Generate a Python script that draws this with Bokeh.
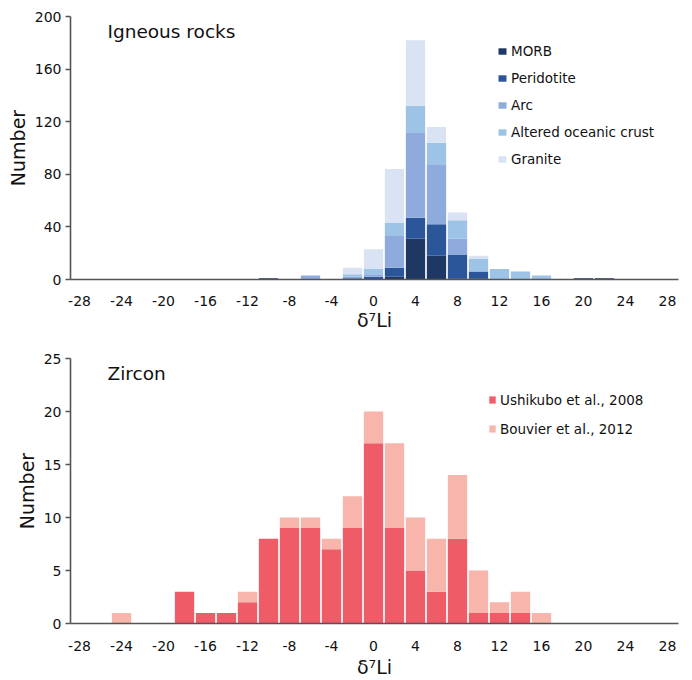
from bokeh.plotting import figure
from bokeh.models import Range1d, FixedTicker, Legend, LegendItem, Label, ColumnDataSource
from bokeh.layouts import column
from bokeh.embed import file_html
from bokeh.resources import INLINE

# ---------------- data ----------------
x_ticks = [-28, -24, -20, -16, -12, -8, -4, 0, 4, 8, 12, 16, 20, 24, 28]

# Igneous rocks (bin centres, bin width 2)
ign_bins = [-10, -6, -2, 0, 2, 4, 6, 8, 10, 12, 14, 16, 20, 22]
morb = [1, 0, 0, 0, 2, 31, 18, 1, 1, 0, 0, 0, 1, 1]
peridotite = [0, 0, 1, 2, 7, 16, 24, 18, 5, 0, 0, 0, 0, 0]
arc = [0, 3, 1, 2, 24, 65, 45, 12, 0, 0, 0, 0, 0, 0]
altered = [0, 0, 2, 4, 10, 20, 17, 14, 10, 8, 6, 3, 0, 0]
granite = [0, 0, 5, 15, 41, 50, 12, 6, 2, 0, 0, 0, 0, 0]
ign_names = ["MORB", "Peridotite", "Arc", "Altered oceanic crust", "Granite"]
ign_colors = ["#1f3763", "#2b579a", "#8faadc", "#9dc3e6", "#dae3f3"]
ign_ticks = [0, 40, 80, 120, 160, 200]

# Zircon
zr_bins = [-24, -18, -16, -14, -12, -10, -8, -6, -4, -2, 0, 2, 4, 6, 8, 10, 12, 14, 16]
ushikubo = [0, 3, 1, 1, 2, 8, 9, 9, 7, 9, 17, 9, 5, 3, 8, 1, 1, 1, 0]
bouvier = [1, 0, 0, 0, 1, 0, 1, 1, 1, 3, 3, 8, 5, 5, 6, 4, 1, 2, 1]
zr_names = ["Ushikubo et al., 2008", "Bouvier et al., 2012"]
zr_colors = ["#ef5b67", "#f8b5ab"]
zr_ticks = [0, 5, 10, 15, 20, 25]

FONT = "DejaVu Sans"
AXC = "#555555"
BAR_W = 1.84


def style(p, yticks):
    p.xgrid.visible = False
    p.ygrid.visible = False
    p.outline_line_color = None
    p.background_fill_color = "white"
    p.border_fill_color = "white"
    for ax in (p.xaxis, p.yaxis):
        ax.axis_line_color = AXC
        ax.axis_line_width = 1.6
        ax.major_tick_line_color = AXC
        ax.major_tick_line_width = 1.4
        ax.minor_tick_line_color = None
        ax.major_label_text_font = FONT
        ax.major_label_text_font_size = "14px"
        ax.major_label_text_color = "#111111"
        ax.axis_label_text_font = FONT
        ax.axis_label_text_font_style = "normal"
        ax.axis_label_text_color = "#111111"
    p.xaxis.ticker = FixedTicker(ticks=x_ticks)
    p.xaxis.major_label_overrides = {t: str(t) for t in x_ticks}
    p.xaxis.major_tick_out = 0
    p.xaxis.major_tick_in = 0
    p.xaxis.axis_label = "δ⁷Li"
    p.xaxis.axis_label_text_font_size = "19px"
    p.yaxis.ticker = FixedTicker(ticks=yticks)
    p.yaxis.major_tick_out = 5
    p.yaxis.major_tick_in = 0
    p.yaxis.major_label_standoff = 4
    p.yaxis.axis_label = "Number"
    p.yaxis.axis_label_text_font_size = "19px"
    p.yaxis.axis_label_standoff = 3


# ---------------- top: igneous rocks ----------------
p1 = figure(width=690, height=340, output_backend="svg", toolbar_location=None,
            x_range=Range1d(-28.86, 29.05), y_range=Range1d(0, 200),
            min_border_left=70, min_border_right=12, min_border_top=16, min_border_bottom=61)
style(p1, ign_ticks)
p1.xaxis.major_label_standoff = 16
p1.xaxis.axis_label_standoff = 0

src1 = ColumnDataSource(dict(x=ign_bins, MORB=morb, Peridotite=peridotite, Arc=arc,
                             Altered=altered, Granite=granite))
r1 = p1.vbar_stack(["MORB", "Peridotite", "Arc", "Altered", "Granite"], x="x", width=BAR_W,
                   color=ign_colors, line_color=None, source=src1)

leg1 = Legend(items=[LegendItem(label=n, renderers=[r]) for n, r in zip(ign_names, r1)],
              location=(427, 110), glyph_width=10, glyph_height=8, label_standoff=4,
              spacing=6, label_height=21, padding=0, margin=0, border_line_color=None,
              background_fill_alpha=0, label_text_font=FONT, label_text_font_size="13.5px",
              label_text_color="#111111")
p1.add_layout(leg1)
p1.add_layout(Label(x=37, y=238, x_units="screen", y_units="screen", text="Igneous rocks",
                    text_font=FONT, text_font_size="18.5px", text_color="#111111"))

# ---------------- bottom: zircon ----------------
p2 = figure(width=690, height=340, output_backend="svg", toolbar_location=None,
            x_range=Range1d(-28.86, 29.05), y_range=Range1d(0, 25),
            min_border_left=70, min_border_right=12, min_border_top=18, min_border_bottom=57)
style(p2, zr_ticks)
p2.xaxis.major_label_standoff = 17
p2.xaxis.axis_label_standoff = 2

src2 = ColumnDataSource(dict(x=zr_bins, Ushikubo=ushikubo, Bouvier=bouvier))
r2 = p2.vbar_stack(["Ushikubo", "Bouvier"], x="x", width=BAR_W, color=zr_colors,
                   line_color=None, source=src2)
leg2 = Legend(items=[LegendItem(label=n, renderers=[r]) for n, r in zip(zr_names, r2)],
              location=(418, 184), glyph_width=8, glyph_height=9, label_standoff=4,
              spacing=8, label_height=21, padding=0, margin=0, border_line_color=None,
              background_fill_alpha=0, label_text_font=FONT, label_text_font_size="13.5px",
              label_text_color="#111111")
p2.add_layout(leg2)
p2.add_layout(Label(x=37, y=240, x_units="screen", y_units="screen", text="Zircon",
                    text_font=FONT, text_font_size="18.5px", text_color="#111111"))

layout = column(p1, p2)
open("out.html", "w").write(file_html(layout, INLINE))
